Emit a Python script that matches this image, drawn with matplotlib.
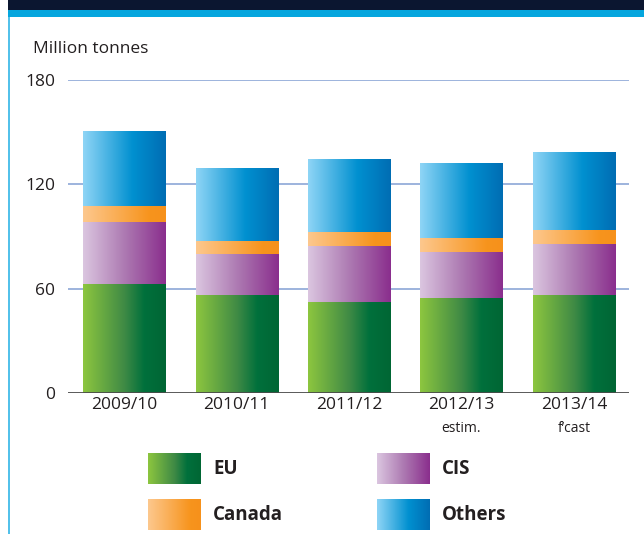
import numpy as np
import matplotlib
matplotlib.use("Agg")
import matplotlib.pyplot as plt
from matplotlib.colors import LinearSegmentedColormap
from matplotlib.patches import Rectangle

plt.rcParams['font.family'] = ['Open Sans', 'DejaVu Sans']

# ---- data (million tonnes) ----
seasons = ["2009/10", "2010/11", "2011/12", "2012/13", "2013/14"]
season_notes = ["", "", "", "estim.", "f\u2019cast"]
eu = [62.7, 56.4, 52.6, 54.7, 56.4]
cis = [35.8, 23.6, 32.0, 26.4, 29.3]
canada = [9.0, 7.4, 8.2, 8.1, 8.1]
others = [43.1, 41.9, 41.6, 43.0, 44.7]
y_ticks = [0, 60, 120, 180]

# horizontal gradient stops for each series
series = [
    ("EU", eu, [(0, "#8dc63f"), (0.5, "#3f8a45"), (0.74, "#00703c"), (1, "#006634")]),
    ("CIS", cis, [(0, "#dbc6e0"), (0.5, "#ad7ab2"), (1, "#8a2e8d")]),
    ("Canada", canada, [(0, "#fdc88e"), (0.8, "#f7941d"), (1, "#f6911b")]),
    ("Others", others, [(0, "#8fd5f6"), (0.6, "#0090d0"), (1, "#006db3")]),
]

TEXT = "#231f20"
W, H = 644, 534
fig = plt.figure(figsize=(W / 100, H / 100), dpi=100)
fig.patch.set_facecolor("white")

# overlay in pixel coordinates for frame and legend
ovl = fig.add_axes([0, 0, 1, 1], zorder=0)
ovl.set_xlim(0, W)
ovl.set_ylim(H, 0)
ovl.axis("off")
ovl.add_patch(Rectangle((8, 0), W - 8, 9.5, color="#0b1630", lw=0))
ovl.add_patch(Rectangle((8, 9.5), W - 8, 7.5, color="#05a6de", lw=0))
ovl.add_patch(Rectangle((8, 17), 2.2, H - 17, color="#53c1ea", lw=0))
ovl.text(33, 49, "Million tonnes", fontsize=12.5, color=TEXT, va="center", ha="left")

grad = np.linspace(0, 1, 256).reshape(1, -1)
cmaps = {name: LinearSegmentedColormap.from_list(name, stops) for name, _, stops in series}

# legend swatches
leg_pos = {"EU": (148, 453), "CIS": (377, 453), "Canada": (148, 499), "Others": (377, 499)}
for name, _, _ in series:
    lx, ly = leg_pos[name]
    ovl.imshow(grad, cmap=cmaps[name], extent=(lx, lx + 53, ly + 31, ly),
               aspect="auto", interpolation="bicubic")
    ovl.text(lx + 65, ly + 15.5, name, fontsize=13.5, fontweight="bold",
             color=TEXT, va="center", ha="left")
ovl.set_xlim(0, W)
ovl.set_ylim(H, 0)

# main chart
ax = fig.add_axes([68 / W, 1 - 393.3 / H, (629 - 68) / W, (393.3 - 79.8) / H], zorder=1)
ax.patch.set_visible(False)
x = np.arange(len(seasons))
width = 0.73
bottom = np.zeros(len(seasons))
for name, vals, _ in series:
    bars = ax.bar(x, vals, width=width, bottom=bottom, color="none", edgecolor="none", zorder=3)
    for b in bars:
        im = ax.imshow(grad, cmap=cmaps[name],
                       extent=(b.get_x(), b.get_x() + b.get_width(),
                               b.get_y(), b.get_y() + b.get_height()),
                       aspect="auto", interpolation="bicubic", zorder=3)
        im.set_clip_path(b)
    bottom += np.array(vals)

ax.set_xlim(-0.5, 4.49)
ax.set_ylim(0, 180)
for t in y_ticks[1:]:
    ax.axhline(t, color="#9db3dd", lw=1.4, zorder=1)
ax.axhline(0, color="#4a4a4a", lw=2, zorder=4)
for s in ax.spines.values():
    s.set_visible(False)
ax.set_yticks(y_ticks)
ax.set_yticklabels([str(t) for t in y_ticks], fontsize=12.5, color=TEXT)
ax.tick_params(axis="y", length=0, pad=9)
ax.set_xticks(x)
ax.set_xticklabels(seasons, fontsize=12.5, color=TEXT)
ax.tick_params(axis="x", length=0, pad=3)
for xi, note in zip(x, season_notes):
    if note:
        ax.annotate(note, xy=(xi, 0), xycoords="data", xytext=(0, -25),
                    textcoords="offset points", ha="center", va="center",
                    fontsize=10, color=TEXT)

fig.savefig("out.png", dpi=100)
